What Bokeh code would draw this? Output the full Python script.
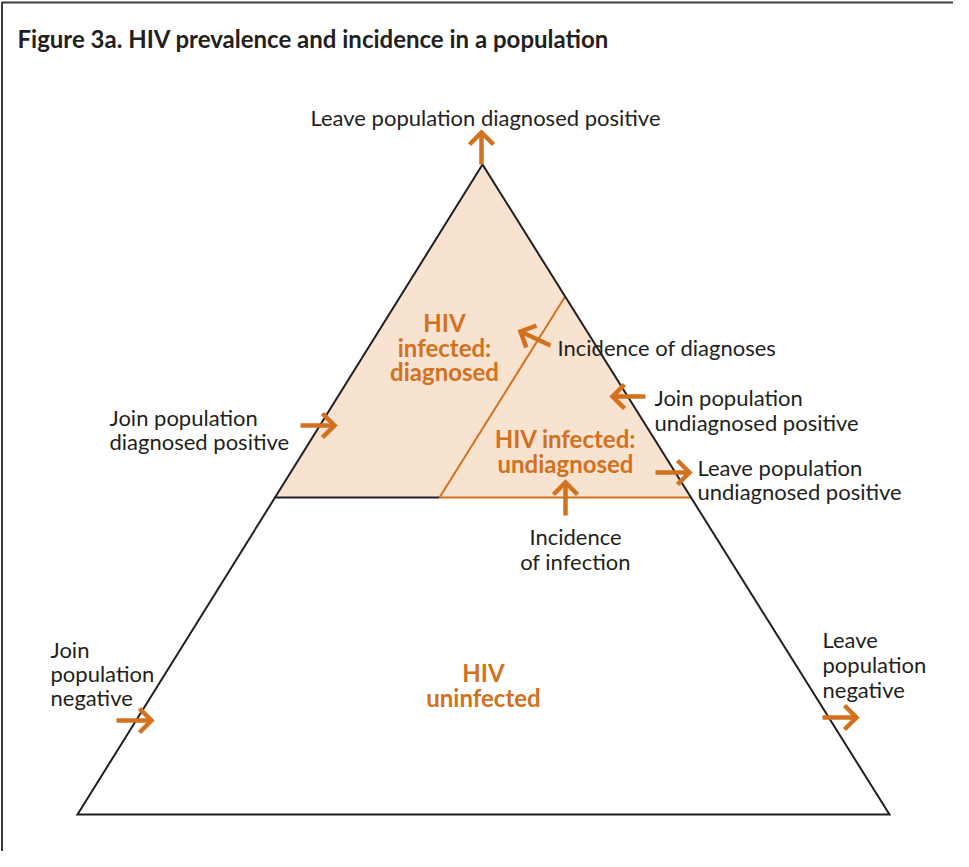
import math
from bokeh.plotting import figure
from bokeh.models import Range1d, ColumnDataSource
from bokeh.core.properties import value
from bokeh.embed import file_html
from bokeh.resources import INLINE

# ---- geometry of the diagram (page pixel space) ----
tri_x = [490, 85, 897]          # apex, bottom-left, bottom-right
tri_y = [172, 822, 822]
cut_y = 505                     # lower edge of the infected zone
split_x = 447                   # where the diagnosed / undiagnosed divider meets the cut
divider_top_y = 304             # divider meets right edge here

# arrows: start -> tip
arrow_x0 = [489, 558, 653, 663, 573, 308, 124, 830]
arrow_y0 = [172, 353, 404, 480, 523, 433, 728, 725]
arrow_x1 = [489, 528, 620, 697, 573, 342, 159, 864]
arrow_y1 = [140, 339, 404, 480, 490, 433, 728, 725]

# plain labels
lab_text = ["Leave population diagnosed positive",
            "Incidence of diagnoses",
            "Join population", "undiagnosed positive",
            "Leave population", "undiagnosed positive",
            "Incidence", "of infection",
            "Join population", "diagnosed positive",
            "Join", "population", "negative",
            "Leave", "population", "negative"]
lab_x = [493, 565, 662, 662, 705, 705, 583, 583, 117, 117, 58, 58, 58, 830, 830, 830]
lab_y = [125, 355, 405, 430, 475, 499, 544, 569, 425, 449, 657, 681, 705, 647, 672, 697]
lab_align = ["center", "left", "left", "left", "left", "left", "center", "center",
             "left", "left", "left", "left", "left", "left", "left", "left"]

# zone labels (bold, orange)
zone_text = ["HIV", "infected:", "diagnosed", "HIV infected:", "undiagnosed", "HIV", "uninfected"]
zone_x = [452, 452, 452, 573, 573, 491, 491]
zone_y = [330, 355, 379, 446, 471, 680, 705]

title = "Figure 3a. HIV prevalence and incidence in a population"

ORANGE = "#D2711E"
PEACH = "#F8E2D0"
INK = "#231F20"
FONT = "Lato"

W, H = 953, 851
p = figure(width=W, height=H, x_range=Range1d(8, 8 + W), y_range=Range1d(8 + H, 8),
           output_backend="svg", toolbar_location=None, min_border=0)
p.axis.visible = False
p.grid.visible = False
p.outline_line_color = None
p.background_fill_color = "white"

# frame
p.line(x=[9.5, 9.5, 8 + W], y=[8 + H, 10, 10], line_color="#3a3a3a", line_width=2)

# helper: x on an edge at a given y
def x_on(xa, ya, xb, yb, y):
    return xa + (xb - xa) * (y - ya) / (yb - ya)

xl_cut = x_on(tri_x[0], tri_y[0], tri_x[1], tri_y[1], cut_y)
xr_cut = x_on(tri_x[0], tri_y[0], tri_x[2], tri_y[2], cut_y)
xr_div = x_on(tri_x[0], tri_y[0], tri_x[2], tri_y[2], divider_top_y)

# triangle fill + infected zone
p.patch(x=tri_x, y=tri_y, fill_color="white", line_color=None)
p.patch(x=[tri_x[0], xl_cut, xr_cut], y=[tri_y[0], cut_y, cut_y], fill_color=PEACH, line_color=None)

# cut lines
p.line(x=[xl_cut, split_x], y=[cut_y, cut_y], line_color=INK, line_width=2)
p.line(x=[split_x, xr_cut], y=[cut_y, cut_y], line_color=ORANGE, line_width=2)
p.line(x=[split_x, xr_div], y=[cut_y, divider_top_y], line_color=ORANGE, line_width=2)

# triangle outline
p.patch(x=tri_x, y=tri_y, fill_color=None, line_color=INK, line_width=2, line_join="miter")

# arrows
p.segment(x0=arrow_x0, y0=arrow_y0, x1=arrow_x1, y1=arrow_y1,
          line_color=ORANGE, line_width=4.5, line_cap="butt")
head_xs, head_ys = [], []
L = 17
for x0, y0, x1, y1 in zip(arrow_x0, arrow_y0, arrow_x1, arrow_y1):
    dx, dy = x1 - x0, y1 - y0
    n = math.hypot(dx, dy)
    ux, uy = dx / n, dy / n
    pts_x, pts_y = [], []
    for s in (1, -1):
        a = s * math.radians(45)
        rx = ux * math.cos(a) - uy * math.sin(a)
        ry = ux * math.sin(a) + uy * math.cos(a)
        pts_x.append(x1 - L * rx)
        pts_y.append(y1 - L * ry)
    head_xs.append([pts_x[0], x1, pts_x[1]])
    head_ys.append([pts_y[0], y1, pts_y[1]])
p.multi_line(xs=head_xs, ys=head_ys, line_color=ORANGE, line_width=4.5, line_join="miter", line_cap="butt")

# labels
src = ColumnDataSource(dict(x=lab_x, y=lab_y, t=lab_text, a=lab_align))
p.text(x="x", y="y", text="t", text_align="a", text_baseline="middle", source=src,
       text_font=value(FONT), text_font_size="22px", text_color=INK)

p.text(x=zone_x, y=zone_y, text=zone_text, text_align="center", text_baseline="middle",
       text_font=value(FONT), text_font_size="24px", text_font_style="bold", text_color=ORANGE)

p.text(x=[25], y=[46], text=[title], text_align="left", text_baseline="middle",
       text_font=value(FONT), text_font_size="24px", text_font_style="bold", text_color=INK)

open("out.html", "w").write(file_html(p, INLINE))
